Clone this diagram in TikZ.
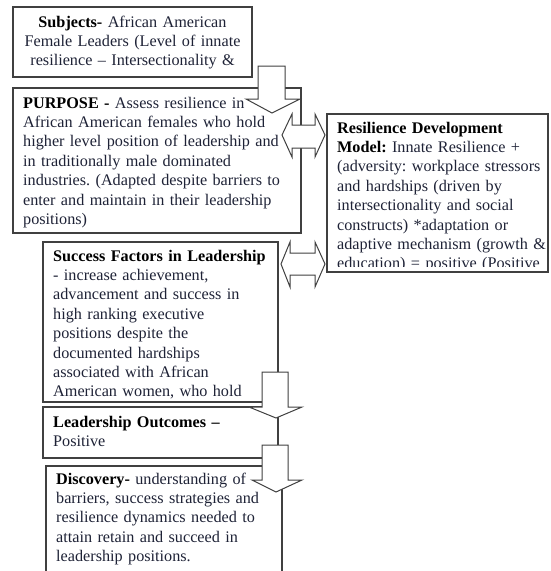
\documentclass[tikz,border=0pt]{standalone}
\usepackage{fontspec}
\setmainfont{Liberation Serif}
\frenchspacing

\definecolor{framegray}{HTML}{404040}
\definecolor{inkblue}{HTML}{1E2236}
\newcommand\boxhead[1]{\textcolor{black}{\textbf{#1}}}

\tikzset{
  box/.style={draw=framegray, line width=1.4pt},
  blockarrow/.style={draw=framegray, line width=1pt, fill=white, line join=miter},
  boxtext/.style={anchor=base west, inner sep=0pt, align=left, text width=#1},
  boxtext/.default=330pt
}

\begin{document}
\begin{tikzpicture}[x=1pt, y=-1pt, font=\fontsize{16.2}{19.4}\selectfont, text=inkblue]
\useasboundingbox (0,0) rectangle (550,571);

% ---- Subjects: (13,7) to (252,77) ----
\draw[box] (13,7) rectangle (252,77);
\node[boxtext=330pt, anchor=base, align=center] (subjects) at (132.5,27)
  {\boxhead{Subjects-} African American\\Female Leaders (Level of innate\\resilience -- Intersectionality \&};

% ---- Purpose: (13,88) to (301,233) ----
\draw[box] (13,88) rectangle (301,233);
\node[boxtext] (purpose) at (23,108)
  {\boxhead{PURPOSE -} Assess resilience in\\African American females who hold\\higher level position of leadership and\\in traditionally male dominated\\industries. (Adapted despite barriers to\\enter and maintain in their leadership\\positions)};

% ---- Resilience model: (327,114) to (548,272), text cut at the bottom ----
\draw[box] (327,114) rectangle (548,272);
\begin{scope}
  \clip (327,114) rectangle (548,266.5);
  \node[boxtext] (model) at (337,133)
    {\boxhead{Resilience Development}\\\boxhead{Model:} Innate Resilience +\\(adversity: workplace stressors\\and hardships (driven by\\intersectionality and social\\constructs) *adaptation or\\adaptive mechanism (growth \&\\education) = positive (Positive};
\end{scope}

% ---- Success factors: (43,242) to (278,402) ----
\draw[box] (43,242) rectangle (278,402);
\node[boxtext] (factors) at (53,261)
  {\boxhead{Success Factors in Leadership}\\- increase achievement,\\advancement and success in\\high ranking executive\\positions despite the\\documented hardships\\associated with African\\American women, who hold};

% ---- Outcomes: (43,407) to (278,458) ----
\draw[box] (43,407) rectangle (278,458);
\node[boxtext] (outcomes) at (53,427)
  {\boxhead{Leadership Outcomes --}\\Positive};

% ---- Discovery: open at the bottom ----
\draw[box] (46,466) rectangle (282,590);
\node[boxtext] (discovery) at (56,484)
  {\boxhead{Discovery-} understanding of\\barriers, success strategies and\\resilience dynamics needed to\\attain retain and succeed in\\leadership positions.};

% ---- down arrows ----
\draw[blockarrow] (258,66) -- (285,66) -- (285,99) -- (300,99) -- (272,113)
  -- (246,99) -- (258,99) -- cycle;
\draw[blockarrow] (262,372) -- (288,372) -- (288,407) -- (302,407) -- (276,418)
  -- (249,407) -- (262,407) -- cycle;
\draw[blockarrow] (262,445) -- (288,445) -- (288,480) -- (302,480) -- (276,492)
  -- (252,480) -- (262,480) -- cycle;

% ---- two-way arrows to the model ----
\draw[blockarrow] (282,135) -- (292,114) -- (292,125) -- (315,125) -- (315,114)
  -- (325,135) -- (315,157) -- (315,148) -- (292,148) -- (292,157) -- cycle;
\draw[blockarrow] (281,264) -- (290,242) -- (290,253) -- (315,253) -- (315,242)
  -- (325,264) -- (315,287) -- (315,275) -- (290,275) -- (290,287) -- cycle;

\end{tikzpicture}
\end{document}
